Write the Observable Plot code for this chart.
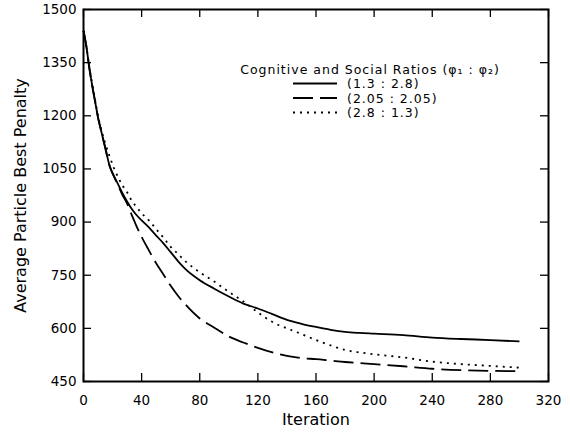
<!DOCTYPE html>
<html>
<head>
<meta charset="utf-8">
<script src="https://cdn.jsdelivr.net/npm/d3@7"></script>
<script src="https://cdn.jsdelivr.net/npm/@observablehq/plot@0.6"></script>
<style>
  html, body { margin: 0; padding: 0; background: #fff; }
  svg { display: block; }
</style>
</head>
<body>
<div id="chart"></div>
<script>
// ---- data ----
const iterations = [0,2,4,6,8,10,12,15,18,21,24,27,30,33,36,40,45,50,55,60,65,70,80,90,100,110,120,130,140,150,160,170,180,190,200,220,240,260,280,300];
const ratio13_28  = [1440,1395,1335,1285,1240,1195,1160,1110,1058,1030,1005,980,958,938,922,905,885,862,840,815,790,768,736,712,690,670,656,640,624,613,604,596,590,587,585,581,574,570,567,563];
const ratio205_205 = [1440,1395,1335,1285,1240,1195,1160,1108,1058,1028,1002,975,952,922,893,858,820,784,752,720,692,668,628,602,577,560,545,532,522,516,513,509,505,502,499,493,486,482,480,479];
const ratio28_13  = [1440,1395,1338,1290,1245,1200,1165,1122,1085,1052,1025,1002,984,962,945,925,905,880,856,830,810,790,758,732,703,676,645,618,600,584,567,552,539,532,527,518,506,499,494,489];
const seriesLabels = ["(1.3 : 2.8)", "(2.05 : 2.05)", "(2.8 : 1.3)"];
const legendTitle = "Cognitive and Social Ratios (φ₁ : φ₂)";
const xTicks = [0,40,80,120,160,200,240,280,320];
const yTicks = [450,600,750,900,1050,1200,1350,1500];
const xLabel = "Iteration";
const yLabel = "Average Particle Best Penalty";

// ---- layout ----
const W = 570, H = 432;
const mL = 83, mR = 22, mT = 9, mB = 51;
const innerW = W - mL - mR, innerH = H - mT - mB;
const tickLen = 8;
const font = "DejaVu Sans, Verdana, sans-serif";

const seriesValues = [ratio13_28, ratio205_205, ratio28_13];
const dashes = [null, "20,7", "2,5"];
const rows = [];
seriesValues.forEach((vals, s) => vals.forEach((v, i) => rows.push({iteration: iterations[i], penalty: v, series: seriesLabels[s]})));

const lineMarks = seriesLabels.map((lab, s) =>
  Plot.line(rows.filter(r => r.series === lab), {
    x: "iteration", y: "penalty", stroke: "black", strokeWidth: 1.8,
    strokeDasharray: dashes[s], strokeLinecap: "butt", curve: "monotone-x"
  })
);

const svg = Plot.plot({
  width: W, height: H,
  marginLeft: mL, marginRight: mR, marginTop: mT, marginBottom: mB,
  style: {fontFamily: font, fontSize: "13.5px", background: "white", color: "black"},
  x: {domain: [0, 320]},
  y: {domain: [450, 1500]},
  marks: [
    Plot.axisX(xTicks, {tickSize: 0, tickPadding: 14, label: null, fontSize: 13.5, tickFormat: d => String(d)}),
    Plot.axisY(yTicks, {tickSize: 0, tickPadding: 7, label: null, fontSize: 13.5, tickFormat: d => String(d)}),
    Plot.ruleX(xTicks, {insetTop: innerH - tickLen, stroke: "black", strokeWidth: 1.3}),
    Plot.ruleX(xTicks, {insetBottom: innerH - tickLen, stroke: "black", strokeWidth: 1.3}),
    Plot.ruleY(yTicks, {insetRight: innerW - tickLen, stroke: "black", strokeWidth: 1.3}),
    Plot.ruleY(yTicks, {insetLeft: innerW - tickLen, stroke: "black", strokeWidth: 1.3}),
    ...lineMarks,
    Plot.frame({stroke: "black", strokeWidth: 2}),
    Plot.text([xLabel], {frameAnchor: "bottom", dy: 43, fontSize: 16, fill: "black", textAnchor: "middle"}),
    Plot.text([yLabel], {frameAnchor: "left", rotate: -90, dx: -63, fontSize: 16, fill: "black", textAnchor: "middle"})
  ]
});

// ---- legend (inside the plot area) ----
const g = d3.select(svg).append("g").attr("font-family", font).attr("fill", "black");
g.append("text").attr("x", 370).attr("y", 69).attr("text-anchor", "middle")
  .attr("dominant-baseline", "central").attr("font-size", 12.5).attr("letter-spacing", 1).text(legendTitle);
const rowY = [83.5, 98, 112.5];
seriesLabels.forEach((lab, s) => {
  g.append("line").attr("x1", 293).attr("x2", 337).attr("y1", rowY[s]).attr("y2", rowY[s])
    .attr("stroke", "black").attr("stroke-width", 1.8)
    .attr("stroke-dasharray", dashes[s]);
  g.append("text").attr("x", 347).attr("y", rowY[s]).attr("text-anchor", "start")
    .attr("dominant-baseline", "central").attr("font-size", 12.5).attr("letter-spacing", 1).text(lab);
});

document.getElementById("chart").appendChild(svg);
</script>
</body>
</html>
